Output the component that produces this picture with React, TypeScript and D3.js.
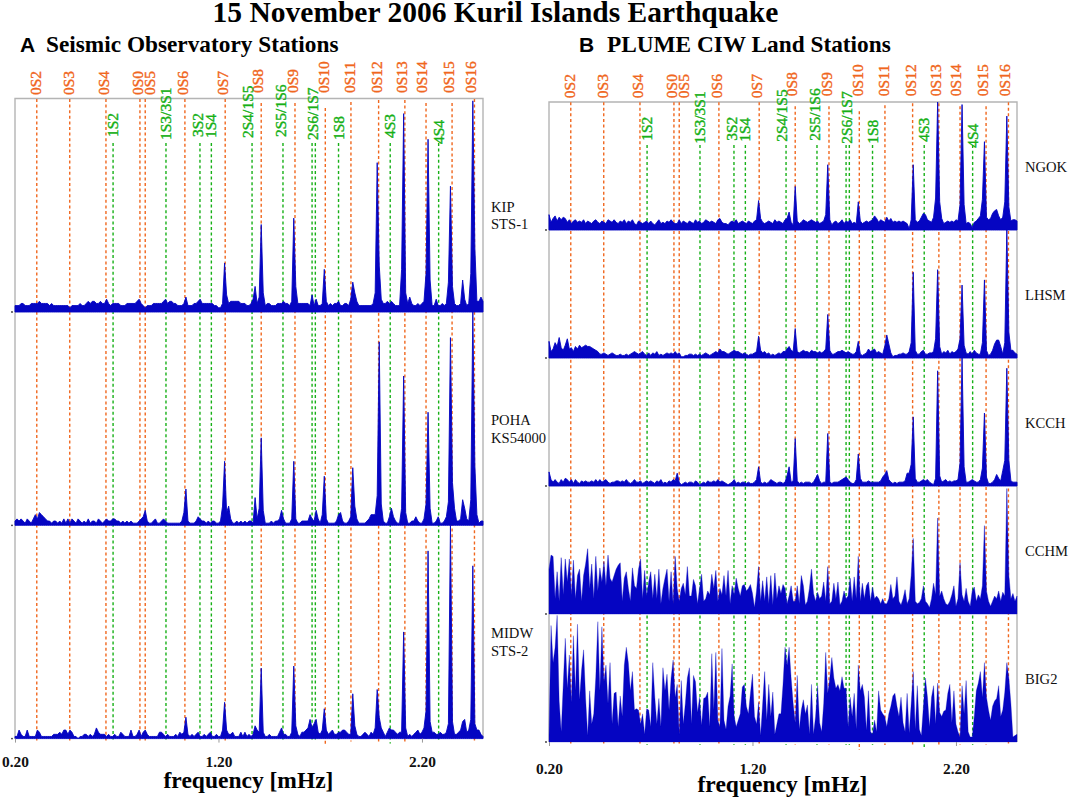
import React, { useEffect, useRef } from "react";
import * as d3 from "d3";

// spectra on a 0.01 mHz grid from 0.20 to 2.50, in percent of row height
const kip = [
  3,3,3,4,4,3,3,3,4,4, 4,4,5,4,4,4,4,3,4,3, 3,3,3,3,3,3,3,2,3,3, 3,3,4,3,3,4,5,4,5,5,
  4,4,5,4,4,6,4,3,4,4, 4,4,3,3,3,4,4,4,4,4, 5,6,4,3,2,3,3,3,4,4, 4,4,4,5,6,4,5,5,4,4,
  3,3,3,4,7,3,3,3,4,4, 5,6,4,4,4,4,4,4,3,3, 2,2,4,23,8,4,5,5,5,5, 5,4,4,4,3,3,4,6,12,4,
  7,41,9,3,4,4,3,3,3,4, 4,4,5,4,4,3,5,44,12,4, 4,4,4,4,4,3,8,3,6,3, 3,4,20,5,3,4,3,4,4,5,
  3,3,4,4,3,6,14,9,5,3, 3,3,3,3,3,3,4,9,70,22, 6,4,4,5,4,5,4,3,3,3, 20,93,9,4,7,4,3,3,4,3,
  4,5,18,81,15,3,3,6,3,3, 4,3,4,14,59,12,4,3,3,4, 15,6,3,4,18,99,30,5,5,7, 5,
];
const poha = [
  2,3,2,3,2,1,3,2,1,3, 5,3,6,5,4,3,2,2,1,2, 2,1,2,1,3,1,3,1,3,2, 1,3,2,1,2,1,3,1,2,2,
  1,3,2,1,2,3,2,2,3,3, 2,2,1,2,1,2,1,2,1,1, 1,2,3,4,7,2,1,1,2,3, 1,1,2,3,2,1,1,1,1,1,
  1,1,2,6,17,2,1,1,1,2, 4,3,2,2,1,2,1,2,2,1, 1,2,9,30,6,9,3,1,1,2, 1,2,1,2,1,2,2,1,13,3,
  8,41,7,1,1,1,2,1,2,2, 3,7,3,1,1,1,3,30,3,1, 1,2,2,2,2,5,3,2,7,3, 1,5,23,3,1,1,1,1,2,5,
  6,2,1,1,2,4,27,9,3,1, 1,1,1,2,3,5,5,5,14,86, 10,2,1,1,4,8,4,2,1,1, 8,70,6,1,1,2,2,4,2,1,
  1,3,10,53,8,1,1,2,4,1, 1,2,4,11,88,20,8,2,2,3, 12,8,3,2,12,100,28,5,1,2, 2,
];
const midw = [
  1,1,4,2,1,1,4,1,1,1, 1,4,3,1,1,1,1,1,1,2, 2,2,3,2,4,4,2,4,3,1, 1,0,1,1,2,2,1,2,1,2,
  5,3,2,2,2,1,2,1,1,2, 1,1,3,2,1,1,1,4,1,1, 2,4,1,3,4,2,1,1,1,1, 1,3,3,2,1,2,1,1,1,2,
  1,3,2,3,10,2,1,2,1,2, 3,1,1,2,1,2,3,1,1,2, 1,1,4,17,4,2,2,3,1,1, 1,3,1,3,1,2,1,2,6,4,
  3,33,3,1,1,2,1,1,1,1, 3,5,2,2,1,1,3,34,6,2, 1,3,3,4,5,9,5,7,9,3, 2,4,14,4,2,3,4,2,2,3,
  3,4,4,3,2,2,21,6,2,1, 1,2,3,2,1,3,2,5,23,10, 5,3,1,3,5,4,4,3,2,3, 3,50,5,1,2,1,2,3,4,2,
  3,5,13,88,8,3,3,2,2,3, 2,2,3,7,100,8,2,2,3,4, 8,9,3,4,9,81,7,4,4,2, 1,
];
const ngok = [
  12,6,9,11,7,10,8,10,9,6, 8,5,7,8,6,7,6,8,5,7, 6,5,7,8,6,5,7,6,5,8, 7,6,8,6,5,7,6,8,5,7,
  6,8,5,4,7,6,5,6,7,5, 7,5,4,6,8,5,6,5,7,6, 8,6,5,5,8,5,7,6,5,7, 6,5,8,6,7,5,6,8,7,6,
  7,6,5,8,9,6,5,5,4,6, 7,6,8,5,6,7,6,5,7,6, 5,7,8,23,9,6,5,6,7,6, 5,8,6,7,6,5,8,9,14,6,
  4,34,7,5,6,8,7,6,7,8, 7,6,7,5,6,7,12,51,8,4, 6,7,5,6,8,5,7,6,8,5, 6,5,22,7,5,6,7,6,7,8,
  11,9,6,8,7,6,10,7,9,6, 7,6,7,6,7,6,5,1,8,51, 8,6,7,10,13,12,8,7,6,10, 25,100,22,9,5,6,7,6,7,6,
  8,7,20,98,20,5,6,5,2,6, 7,9,11,24,69,10,8,9,13,15, 16,11,8,10,22,89,18,7,8,8, 7,
];
const lhsm = [
  13,5,7,12,9,16,8,6,10,15, 7,8,5,9,7,10,8,9,10,9, 9,8,7,6,5,3,3,4,3,2, 3,4,3,2,2,3,2,2,3,2,
  3,4,5,4,3,4,5,3,2,4, 2,4,3,5,2,3,2,3,4,3, 4,3,5,3,4,1,1,2,2,3, 3,2,3,2,3,2,3,4,3,2,
  3,4,5,4,7,5,5,4,3,4, 5,6,5,5,4,3,4,3,2,3, 3,4,5,17,6,4,5,3,4,2, 3,2,3,4,3,5,5,7,9,6,
  5,23,5,4,5,6,5,5,4,6, 5,5,4,5,4,5,7,34,6,3, 3,4,5,5,6,5,4,5,4,3, 3,5,13,3,2,3,4,7,5,6,
  7,4,5,4,3,9,18,11,4,1, 2,2,3,3,4,3,3,5,12,67, 6,3,3,5,6,3,3,4,4,5, 15,69,9,3,5,4,6,3,5,4,
  5,7,15,57,10,4,3,5,3,6, 4,3,3,12,61,6,2,3,6,11, 14,14,9,3,12,100,20,6,6,4, 3,
];
const kcch = [
  11,5,3,5,3,2,5,3,6,5, 3,5,2,5,3,2,4,3,4,3, 3,4,3,5,3,5,3,4,5,3, 2,3,3,4,4,3,4,3,5,3,
  2,3,5,3,3,4,2,3,4,3, 4,3,2,4,3,5,2,3,2,4, 3,5,4,10,3,1,2,3,2,3, 3,2,4,3,1,2,3,2,4,3,
  3,4,3,5,3,4,3,2,1,2, 3,5,2,3,2,3,3,2,3,2, 2,3,5,15,3,2,3,2,3,5, 4,3,2,3,3,2,3,8,15,3,
  4,37,4,2,3,2,3,3,3,2, 3,6,9,4,2,3,3,41,3,2, 3,3,3,4,5,6,7,5,3,2, 2,5,25,6,3,3,3,4,3,3,
  3,3,3,4,7,9,12,5,3,2, 3,2,3,3,3,4,10,10,17,54, 6,3,3,4,5,4,5,3,2,1, 6,90,8,3,4,5,3,4,3,4,
  4,5,18,100,15,3,3,4,5,4, 3,3,5,14,57,7,2,2,3,5, 9,6,4,12,20,92,20,4,3,3, 3,
];
const cchm = [
  35,46,45,12,33,10,44,15,43,25, 43,15,42,12,30,35,10,30,39,51, 20,39,12,45,18,36,25,41,22,46,
  28,25,30,35,38,40,10,28,33,20, 10,36,22,20,35,43,12,34,14,25, 33,12,31,12,35,8,20,28,35,10,
  33,8,45,20,10,20,24,15,37,14, 14,27,22,8,20,31,10,12,18,15, 31,20,34,10,20,15,30,14,34,8,
  22,15,28,20,14,22,23,18,20,23, 16,5,18,37,10,26,10,29,8,30, 7,32,12,22,16,23,20,8,14,22,
  10,10,22,8,30,22,7,10,20,35, 16,10,17,12,14,25,10,37,8,10, 24,12,25,7,10,18,12,14,28,10,
  29,12,45,10,24,12,22,25,10,21, 12,14,12,8,12,8,8,12,23,12, 14,29,10,7,12,19,8,12,30,59,
  10,8,9,12,22,10,8,5,12,24, 15,75,14,18,12,8,7,10,15,22, 6,12,40,15,10,20,10,6,18,21,
  10,15,12,22,69,18,10,6,10,14, 12,18,10,17,14,98,30,12,16,10, 14,
];
const big2 = [
  5,91,62,74,99,32,8,45,81,42, 68,31,83,40,92,33,56,72,34,5, 40,14,22,51,94,40,90,47,60,30,
  62,14,38,39,12,36,20,60,74,62, 40,55,25,26,25,14,22,6,26,25, 12,62,35,14,34,12,58,40,53,25,
  50,64,35,45,6,48,14,30,50,58, 14,52,47,23,35,13,34,35,39,12, 69,25,70,17,12,73,17,10,28,36,
  61,20,12,17,22,43,45,28,22,38, 53,20,14,31,5,30,55,17,45,20, 39,6,14,22,22,45,74,60,74,50,
  30,15,52,10,25,33,22,29,6,45, 6,20,44,15,8,30,70,38,50,66, 50,42,45,40,51,42,42,12,35,20,
  38,10,60,40,45,35,9,40,8,6, 17,8,40,25,22,20,12,22,28,36, 38,28,20,35,15,8,38,7,30,55,
  10,44,10,5,28,50,35,12,35,44, 14,46,23,20,24,25,38,45,15,40, 14,8,4,44,22,48,8,4,4,20,
  40,46,55,35,62,35,25,17,28,32, 34,44,20,25,39,62,50,30,4,5, 6,
];

const orangeModes = ["0S2","0S3","0S4","0S0","0S5","0S6","0S7","0S8","0S9","0S10","0S11","0S12","0S13","0S14","0S15","0S16"];
const orangeFreqs = [0.307,0.469,0.647,0.814,0.84,1.035,1.233,1.41,1.576,1.725,1.851,1.987,2.116,2.22,2.348,2.458];
const greenModes = ["1S2","1S3/3S1","3S2","1S4","2S4/1S5","2S5/1S6","2S6/1S7","1S8","4S3","4S4"];
const greenFreqs = [0.682,0.942,1.109,1.165,1.365,1.517,1.66,1.79,2.044,2.282];
const extraGreenFreq = [1.676]; // second line under the 2S6/1S7 label
const tickValues = [0.2, 1.2, 2.2];

// layout only: where each rotated label sits relative to its line
const orangeLabelDx = [-1,-1,-2,-2,5,-2,-2,-3,-2,-1,-1,-2,-3,-4,-3,-3];
const orangeLabelY = [95,95,95,95,95,95,95,93,93,93,93,93,93,93,93,93];
const orangeLineTop = [99,99,99,99,99,99,99,103,103,108,102,100,100,103,103,99];
const greenLabelDx = [0,0,-2,0,-4,-2,1,0,0,0];
const greenLabelY = [137,140,137,138,138,137,140,140,138,144];

const panelA = {
  left: 15, top: 98.5, offsetY: 0, rowHeight: 213.3, firstBase: 312,
  stations: [
    { values: kip, label: ["KIP", "STS-1"], edge: 0.9 },
    { values: poha, label: ["POHA", "KS54000"], edge: 0.9 },
    { values: midw, label: ["MIDW", "STS-2"], edge: 0.9 },
  ],
  labelX: 491,
};
const panelB = {
  left: 549, top: 102, offsetY: 7, rowHeight: 128, firstBase: 230,
  stations: [
    { values: ngok, label: ["NGOK"], edge: 0.9 },
    { values: lhsm, label: ["LHSM"], edge: 0.9 },
    { values: kcch, label: ["KCCH"], edge: 0.9 },
    { values: cchm, label: ["CCHM"], edge: 0.4 },
    { values: big2, label: ["BIG2"], edge: 0.3 },
  ],
  labelX: 1025,
};

const serif = "'Liberation Serif', serif";
const orange = "#f0671e";
const green = "#17b017";
const blue = "#0505c2";

const App: React.FC = () => {
  const svgRef = useRef<SVGSVGElement | null>(null);

  useEffect(() => {
    const svg = d3.select(svgRef.current);
    svg.selectAll("*").remove();

    const drawPanel = (p: typeof panelA, title: string, letter: string, letterX: number, titleX: number) => {
      const g = svg.append("g");
      const x = d3.scaleLinear().domain([0.2, 2.5]).range([p.left, p.left + 468]);
      const lastBase = p.firstBase + p.rowHeight * (p.stations.length - 1);
      const shift = p.offsetY;

      // grey frame
      g.append("path")
        .attr("d", `M${x(0.2)},${lastBase}V${p.top}H${x(2.5)}V${lastBase}`)
        .attr("fill", "none")
        .attr("stroke", "#b4b4b4")
        .attr("stroke-width", 1.4);

      // mode lines
      const drawLine = (f: number, top: number, bottom: number, color: string) =>
        g.append("line")
          .attr("x1", x(f)).attr("x2", x(f))
          .attr("y1", top).attr("y2", bottom)
          .attr("stroke", color)
          .attr("stroke-width", 1.4)
          .attr("stroke-dasharray", "3 2.6");

      const modeLabel = (t: string, tx: number, ty: number, color: string) =>
        g.append("text")
          .attr("transform", `translate(${tx},${ty}) rotate(-90)`)
          .attr("font-family", serif)
          .attr("font-size", 15.5)
          .attr("fill", color)
          .attr("stroke", color)
          .attr("stroke-width", 0.4)
          .text(t);

      orangeFreqs.forEach((f, i) => {
        const bottom = orangeModes[i] === "0S10" ? lastBase + 8 : lastBase + 3;
        drawLine(f, orangeLineTop[i] + shift * 0.45, bottom, orange);
        modeLabel(orangeModes[i], x(f) + orangeLabelDx[i] + 5, orangeLabelY[i] + shift * 0.45, orange);
      });
      [...greenFreqs, ...extraGreenFreq].forEach((f) => {
        drawLine(f, 143 + shift * 0.3, f === 2.044 ? lastBase + 5 : lastBase + 3, green);
      });
      greenFreqs.forEach((f, i) => {
        modeLabel(greenModes[i], x(f) + greenLabelDx[i] + 5, greenLabelY[i] + shift * 0.55, green);
      });

      // one filled spectrum per station
      p.stations.forEach((s, row) => {
        const base = p.firstBase + row * p.rowHeight;
        const y = d3.scaleLinear().domain([0, 100]).range([base, base - p.rowHeight]);
        const area = d3.area<number>()
          .x((_, i) => x(0.2 + i * 0.01))
          .y0(base)
          .y1((d) => y(d));
        g.append("path")
          .attr("d", area(s.values))
          .attr("fill", blue)
          .attr("stroke", blue)
          .attr("stroke-width", s.edge)
          .attr("stroke-linejoin", "bevel");
        g.append("circle").attr("cx", p.left - 3).attr("cy", base).attr("r", 0.9).attr("fill", "#333");

        const midY = base - p.rowHeight * 0.47;
        s.label.forEach((t, k) => {
          g.append("text")
            .attr("x", p.labelX)
            .attr("y", midY + k * 17.5 + (s.label.length > 1 ? 0 : 2))
            .attr("font-family", serif)
            .attr("font-size", 14.6)
            .attr("fill", "#111")
            .text(t);
        });
      });

      // bottom axis
      const axis = g.append("g")
        .attr("transform", `translate(0,${lastBase})`)
        .call(d3.axisBottom(x).tickValues(tickValues).tickSize(4).tickPadding(13 + shift * 0.55).tickFormat((d) => (d as number).toFixed(2)));
      axis.select(".domain").remove();
      axis.selectAll("line").attr("stroke", "#999");
      axis.selectAll("text")
        .attr("font-family", serif)
        .attr("font-size", 15.4)
        .attr("font-weight", "bold")
        .attr("fill", "#111");

      g.append("text")
        .attr("x", p.left + 233.5)
        .attr("y", 788 + shift * 0.55)
        .attr("text-anchor", "middle")
        .attr("font-family", serif)
        .attr("font-size", 23.5)
        .attr("font-weight", "bold")
        .text("frequency [mHz]");

      // panel heading
      g.append("text")
        .attr("x", letterX)
        .attr("y", 52)
        .attr("font-family", "'Liberation Sans', sans-serif")
        .attr("font-size", 21)
        .attr("font-weight", "bold")
        .text(letter);
      g.append("text")
        .attr("x", titleX)
        .attr("y", 52)
        .attr("font-family", serif)
        .attr("font-size", 23.3)
        .attr("font-weight", "bold")
        .text(title);
    };

    drawPanel(panelA, "Seismic Observatory Stations", "A", 20, 46);
    drawPanel(panelB, "PLUME CIW Land Stations", "B", 579, 607);

    svg.append("text")
      .attr("x", 495.5)
      .attr("y", 22)
      .attr("text-anchor", "middle")
      .attr("font-family", serif)
      .attr("font-size", 29.5)
      .attr("font-weight", "bold")
      .text("15 November 2006 Kuril Islands Earthquake");
  }, []);

  return <svg ref={svgRef} width={1072} height={802} style={{ position: "absolute", left: 0, top: 0, background: "#fff" }} />;
};

export default App;
